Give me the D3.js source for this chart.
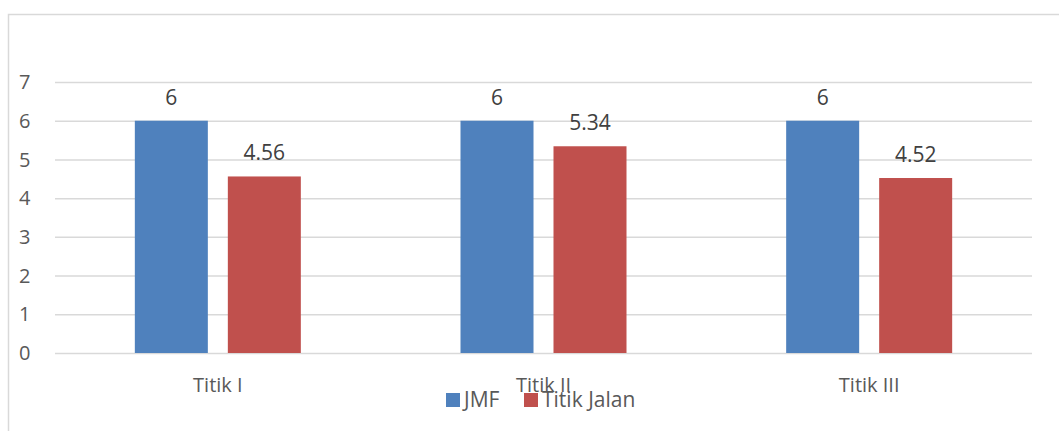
<!DOCTYPE html>
<html>
   <head>
      <script src="https://d3js.org/d3.v7.min.js"></script>
   </head>
   <style>
      body { margin: 0; background: #fff; }
      svg text { font-family: "Open Sans", sans-serif; fill: #595959; }
   </style>
   <body>
      <svg id="chart" width="1059" height="431"></svg>
      <script>
         // data
         let categories = ['Titik I', 'Titik II', 'Titik III'];
         let seriesNames = ['JMF', 'Titik Jalan'];
         let jmf = [6, 6, 6];
         let titikJalan = [4.56, 5.34, 4.52];
         let yTicks = [0, 1, 2, 3, 4, 5, 6, 7];
         let colors = ['#4F81BD', '#C0504D'];

         let svg = d3.select('#chart');

         // outer chart border (only top and left visible)
         svg.append('path')
            .attr('d', 'M8.5,440 V14.5 H1070')
            .attr('fill', 'none')
            .attr('stroke', '#D9D9D9')
            .attr('stroke-width', 1.5);

         let plotLeft = 55, plotRight = 1032, plotTop = 82, plotBottom = 353;

         let x = d3.scaleBand().domain(categories).range([plotLeft, plotRight]);
         let y = d3.scaleLinear().domain([0, 7]).range([plotBottom, plotTop]);
         let x1 = d3.scaleBand().domain(seriesNames).range([0, 166]).paddingInner(0.215);

         // gridlines
         svg.append('g').selectAll('line')
            .data(yTicks)
            .enter()
            .append('line')
            .attr('x1', plotLeft).attr('x2', plotRight)
            .attr('y1', (d) => y(d) + 0.5).attr('y2', (d) => y(d) + 0.5)
            .attr('stroke', '#D9D9D9')
            .attr('stroke-width', 1.5);

         // y tick labels
         svg.append('g').selectAll('text')
            .data(yTicks)
            .enter()
            .append('text')
            .attr('x', 19)
            .attr('y', (d) => y(d))
            .attr('dy', '0.36em')
            .attr('font-size', 20)
            .text((d) => d);

         let rows = categories.map((c, i) => [
            {cat: c, s: seriesNames[0], v: jmf[i], col: colors[0]},
            {cat: c, s: seriesNames[1], v: titikJalan[i], col: colors[1]}
         ]);

         let groups = svg.selectAll('g.grp')
            .data(rows)
            .enter()
            .append('g')
            .attr('class', 'grp')
            .attr('transform', (d, i) => `translate(${x(categories[i]) + x.bandwidth() / 2 - 83}, 0)`);

         let bars = groups.selectAll('g.bar')
            .data((d) => d)
            .enter()
            .append('g')
            .attr('class', 'bar');

         bars.append('rect')
            .attr('x', (d) => x1(d.s))
            .attr('width', x1.bandwidth())
            .attr('y', (d) => y(d.v))
            .attr('height', (d) => y(0) - y(d.v))
            .attr('fill', (d) => d.col);

         bars.append('text')
            .attr('x', (d) => x1(d.s) + x1.bandwidth() / 2)
            .attr('y', (d) => y(d.v) - 16)
            .attr('text-anchor', 'middle')
            .attr('font-size', 21)
            .style('fill', '#404040')
            .text((d) => d.v);

         // category labels
         svg.append('g').selectAll('text')
            .data(categories)
            .enter()
            .append('text')
            .attr('x', (d) => x(d) + x.bandwidth() / 2)
            .attr('y', 392)
            .attr('text-anchor', 'middle')
            .attr('font-size', 20)
            .text((d) => d);

         // legend
         let legendX = [446, 524];
         let legend = svg.append('g').selectAll('g')
            .data(seriesNames)
            .enter()
            .append('g')
            .attr('transform', (d, i) => `translate(${legendX[i]}, 393)`);
         legend.append('rect')
            .attr('width', 14).attr('height', 14)
            .attr('fill', (d, i) => colors[i]);
         legend.append('text')
            .attr('x', 18)
            .attr('y', 14)
            .attr('font-size', 21)
            .text((d) => d);
      </script>
   </body>
</html>
